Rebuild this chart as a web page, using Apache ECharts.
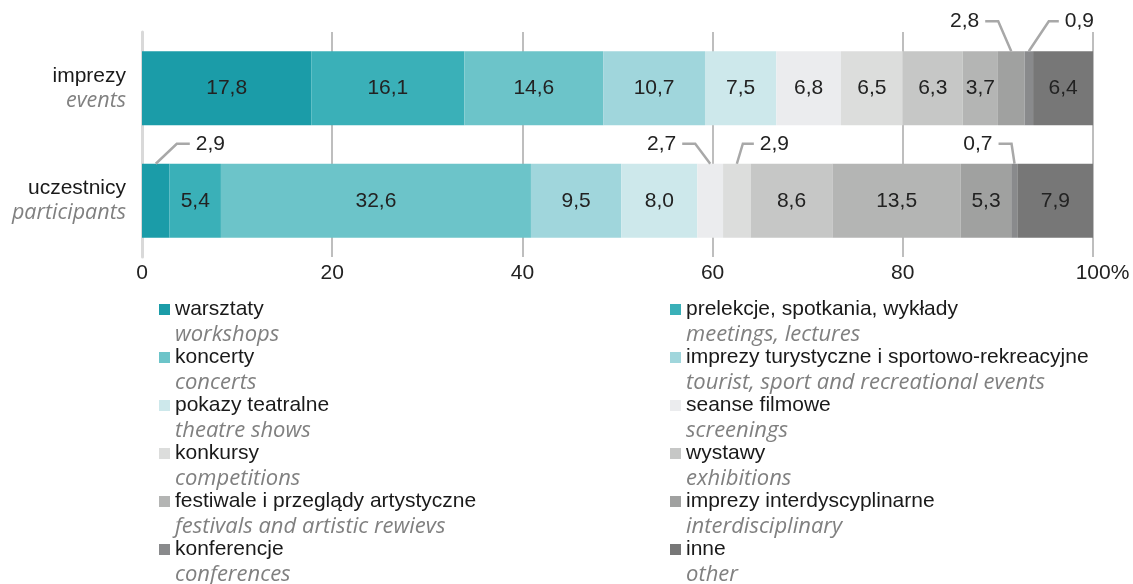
<!DOCTYPE html>
<html>
<head>
    <meta charset="utf-8">
    <title>Struktura imprez i uczestników</title>
    <script type="text/javascript" src="https://cdn.jsdelivr.net/npm/echarts@6/dist/echarts.min.js"></script>
</head>
<body style="margin: 0;">
<div id="container" style="width: 1133px; height: 584px;"></div>
<script type="text/javascript">
    // dane
    var rowsPl = ['imprezy', 'uczestnicy'];
    var rowsEn = ['events', 'participants'];
    var typesPl = ['warsztaty', 'prelekcje, spotkania, wykłady', 'koncerty',
        'imprezy turystyczne i sportowo-rekreacyjne', 'pokazy teatralne', 'seanse filmowe',
        'konkursy', 'wystawy', 'festiwale i przeglądy artystyczne', 'imprezy interdyscyplinarne',
        'konferencje', 'inne'];
    var typesEn = ['workshops', 'meetings, lectures', 'concerts',
        'tourist, sport and recreational events', 'theatre shows', 'screenings',
        'competitions', 'exhibitions', 'festivals and artistic rewievs', 'interdisciplinary',
        'conferences', 'other'];
    var eventsShare = [17.8, 16.1, 14.6, 10.7, 7.5, 6.8, 6.5, 6.3, 3.7, 2.8, 0.9, 6.4];
    var participantsShare = [2.9, 5.4, 32.6, 9.5, 8.0, 2.7, 2.9, 8.6, 13.5, 5.3, 0.7, 7.9];
    var xTickLabels = ['0', '20', '40', '60', '80', '100%'];

    var colors = ['#1b9ca8', '#3ab0b8', '#6cc4c9', '#a0d6dc', '#cde8eb', '#ebecee',
        '#dcdddc', '#c6c7c6', '#b4b5b4', '#a0a1a0', '#898a8c', '#777777'];
    var font = "'Liberation Sans', Arial, sans-serif";
    var fontEn = "'Open Sans', sans-serif";
    var barHeight = 74;
    // odnośniki dla małych wartości: [wiersz, typ, przesunięcie x, wysokość, długość poziomej kreski]
    var callouts = [
        [0, 9, -13, 30, 13],
        [0, 10, 20, 30, 10],
        [1, 0, 21, 20, 13],
        [1, 5, -15, 20, 13],
        [1, 6, 6, 20, 11],
        [1, 10, -3, 20, 13]
    ];

    function fmt(v) {
        return v.toFixed(1).replace('.', ',');
    }

    var rows = [eventsShare, participantsShare];
    var calloutData = [];
    for (var k = 0; k < callouts.length; k++) {
        var c = callouts[k];
        var start = 0;
        for (var j = 0; j < c[1]; j++) start += rows[c[0]][j];
        var v = rows[c[0]][c[1]];
        calloutData.push([start + v / 2, c[0], v, c[2], c[3], c[4]]);
    }

    var series = [];
    for (var i = 0; i < typesPl.length; i++) {
        series.push({
            name: typesPl[i],
            type: 'bar',
            stack: 'total',
            barWidth: barHeight,
            itemStyle: {color: colors[i]},
            label: {
                show: true,
                position: 'inside',
                fontSize: 21,
                fontFamily: font,
                color: '#222',
                formatter: function (p) {
                    return p.value < 3 ? '' : fmt(p.value);
                }
            },
            emphasis: {disabled: true},
            data: [eventsShare[i], participantsShare[i]]
        });
    }
    series.push({
        type: 'custom',
        name: 'odnosniki',
        clip: false,
        z: 10,
        silent: true,
        encode: {x: 0, y: 1},
        data: calloutData,
        renderItem: function (params, api) {
            var p = api.coord([api.value(0), api.value(1)]);
            var top = p[1] - barHeight / 2;
            var dx = api.value(3), rise = api.value(4), len = api.value(5);
            var dir = dx < 0 ? -1 : 1;
            var y1 = top - rise;
            var x1 = p[0] + dx;
            var x2 = x1 + dir * len;
            return {
                type: 'group',
                children: [{
                    type: 'polyline',
                    shape: {points: [[p[0], top], [x1, y1], [x2, y1]]},
                    style: {stroke: '#a8a8a8', lineWidth: 2.5, fill: null}
                }, {
                    type: 'text',
                    style: {
                        text: fmt(api.value(2)),
                        x: x2 + dir * 6,
                        y: y1,
                        align: dir < 0 ? 'right' : 'left',
                        verticalAlign: 'middle',
                        fontSize: 21,
                        fontFamily: font,
                        fill: '#222'
                    }
                }]
            };
        }
    });

    function legendFor(names, left) {
        return {
            left: left,
            top: 274,
            height: 340,
            padding: 0,
            orient: 'vertical',
            icon: 'rect',
            itemWidth: 11,
            itemHeight: 11,
            itemGap: -23.5,
            selectedMode: false,
            data: names,
            formatter: function (name) {
                return '{s|}\n{a|' + name + '}\n{b|' + typesEn[typesPl.indexOf(name)] + '}';
            },
            textStyle: {
                rich: {
                    s: {lineHeight: 25, fontSize: 21},
                    a: {lineHeight: 25, fontSize: 21, fontFamily: font, color: '#1a1a1a'},
                    b: {lineHeight: 25, fontSize: 22, fontFamily: fontEn, fontStyle: 'italic', color: '#808080'}
                }
            }
        };
    }

    var chart = echarts.init(document.getElementById('container'));
    var option = {
        animation: false,
        textStyle: {fontFamily: font},
        grid: {left: 142, right: 40, top: 32, bottom: 327, outerBoundsMode: 'none', containLabel: false},
        legend: [
            legendFor(typesPl.filter(function (n, i) { return i % 2 === 0; }), 159),
            legendFor(typesPl.filter(function (n, i) { return i % 2 === 1; }), 670)
        ],
        xAxis: {
            type: 'value',
            min: 0,
            max: 100,
            interval: 20,
            axisLine: {show: false},
            axisTick: {show: false},
            splitLine: {show: true, showMinLine: false, lineStyle: {color: '#a9a9a9', width: 1.5}},
            axisLabel: {
                margin: 6,
                fontSize: 21,
                color: '#222',
                formatter: function (v) {
                    var t = xTickLabels[v / 20];
                    return t.indexOf('%') > 0 ? '{pad|}' + t : t;
                },
                rich: {pad: {width: 19}}
            }
        },
        yAxis: {
            type: 'category',
            inverse: true,
            data: rowsPl,
            offset: 2,
            axisTick: {show: false},
            axisLine: {show: true, lineStyle: {color: '#d9d9d9', width: 3}},
            axisLabel: {
                margin: 14,
                formatter: function (value, idx) {
                    return '{a|' + value + '}\n{b|' + rowsEn[idx] + '}';
                },
                rich: {
                    a: {fontSize: 21, fontFamily: font, color: '#1a1a1a', lineHeight: 25, align: 'right'},
                    b: {fontSize: 21.5, fontFamily: fontEn, fontStyle: 'italic', color: '#808080', lineHeight: 25, align: 'right'}
                }
            }
        },
        series: series
    };
    chart.setOption(option);
</script>
</body>
</html>
